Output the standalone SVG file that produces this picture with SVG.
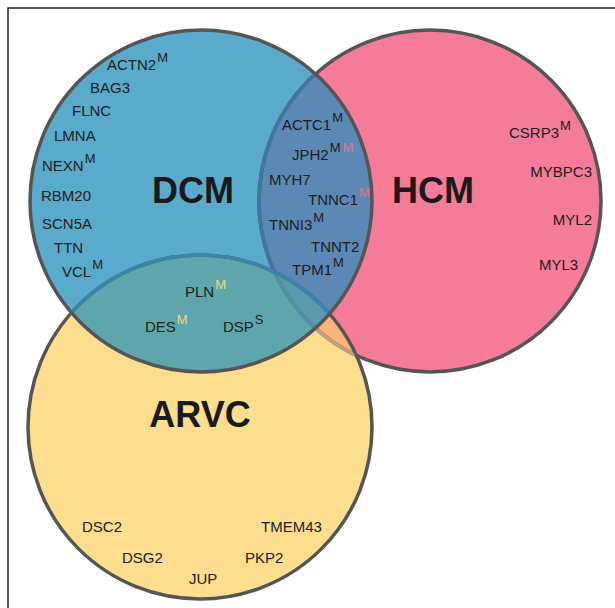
<svg xmlns="http://www.w3.org/2000/svg" width="615" height="608" viewBox="0 0 615 608">
<defs>
<clipPath id="cD"><circle cx="201" cy="201" r="171"/></clipPath>
<clipPath id="cH"><circle cx="430" cy="201" r="171"/></clipPath>
<clipPath id="cA"><circle cx="200" cy="427" r="172"/></clipPath>
<style>
.g{font-family:"Liberation Sans",Arial,Helvetica,sans-serif;font-size:15px;fill:#1c1c1c}
.s{font-size:13px}
.pk{fill:#e8708f}
.yl{fill:#f3d57c}
.big{font-family:"Liberation Sans",Arial,Helvetica,sans-serif;font-size:36px;font-weight:bold;fill:#1a1a1a;text-anchor:middle}
.edge{fill:none;stroke-width:3.5}
</style>
</defs>
<rect width="615" height="608" fill="#ffffff"/>
<path d="M8,620V8H620" fill="none" stroke="#222" stroke-width="1.5"/>

<g id="fills">
<circle cx="430" cy="201" r="171" fill="#f47c99"/>
<circle cx="200" cy="427" r="172" fill="#fddd8e"/>
<circle cx="200" cy="427" r="172" fill="#f9b47a" clip-path="url(#cH)"/>
<circle cx="201" cy="201" r="171" fill="#5aabcb"/>
<circle cx="201" cy="201" r="171" fill="#5b88b4" clip-path="url(#cH)"/>
<circle cx="201" cy="201" r="171" fill="#5ea6ab" clip-path="url(#cA)"/>
<g clip-path="url(#cH)"><circle cx="201" cy="201" r="171" fill="#5b9aac" clip-path="url(#cA)"/></g>
</g>

<g id="edges">
<circle cx="430" cy="201" r="171" class="edge" stroke="#555"/>
<circle cx="430" cy="201" r="171" class="edge" stroke="#c5a07a" clip-path="url(#cA)"/>
<circle cx="430" cy="201" r="171" class="edge" stroke="#3f77a3" clip-path="url(#cD)"/>
<g clip-path="url(#cA)"><circle cx="430" cy="201" r="171" class="edge" stroke="#4f93a2" clip-path="url(#cD)"/></g>
<circle cx="200" cy="427" r="172" class="edge" stroke="#555"/>
<circle cx="200" cy="427" r="172" class="edge" stroke="#3a86ab" clip-path="url(#cD)"/>
<circle cx="201" cy="201" r="171" class="edge" stroke="#555"/>
</g>

<g id="DCM">
<text class="big" x="193" y="203">DCM</text>
<text class="g" x="107" y="70">ACTN2<tspan class="s" dx="1" dy="-8">M</tspan></text>
<text class="g" x="90" y="93">BAG3</text>
<text class="g" x="72" y="116">FLNC</text>
<text class="g" x="54" y="141">LMNA</text>
<text class="g" x="42" y="171">NEXN<tspan class="s" dx="1" dy="-8">M</tspan></text>
<text class="g" x="41" y="201">RBM20</text>
<text class="g" x="42" y="229">SCN5A</text>
<text class="g" x="54" y="253">TTN</text>
<text class="g" x="62" y="277">VCL<tspan class="s" dx="1" dy="-8">M</tspan></text>
</g>

<g id="DCM-HCM">
<text class="g" x="282" y="130">ACTC1<tspan class="s" dx="1" dy="-8">M</tspan></text>
<text class="g" x="292" y="160">JPH2<tspan class="s" dx="1" dy="-8">M</tspan><tspan class="s pk" dx="2">M</tspan></text>
<text class="g" x="269" y="185">MYH7</text>
<text class="g" x="308" y="205">TNNC1<tspan class="s pk" dx="1" dy="-8">M</tspan></text>
<text class="g" x="269" y="230">TNNI3<tspan class="s" dx="1" dy="-8">M</tspan></text>
<text class="g" x="311" y="252">TNNT2</text>
<text class="g" x="292" y="275">TPM1<tspan class="s" dx="1" dy="-8">M</tspan></text>
</g>

<g id="HCM">
<text class="big" x="433" y="203">HCM</text>
<text class="g" x="509" y="138">CSRP3<tspan class="s" dx="1" dy="-8">M</tspan></text>
<text class="g" x="592" y="177" text-anchor="end">MYBPC3</text>
<text class="g" x="592" y="225" text-anchor="end">MYL2</text>
<text class="g" x="539" y="270">MYL3</text>
</g>

<g id="DCM-ARVC">
<text class="g" x="185" y="297">PLN<tspan class="s yl" dx="1" dy="-8">M</tspan></text>
<text class="g" x="145" y="332">DES<tspan class="s yl" dx="1" dy="-8">M</tspan></text>
<text class="g" x="223" y="332">DSP<tspan class="s" dx="1" dy="-8">S</tspan></text>
</g>

<g id="ARVC">
<text class="big" x="200" y="427">ARVC</text>
<text class="g" x="82" y="532">DSC2</text>
<text class="g" x="122" y="563">DSG2</text>
<text class="g" x="189" y="584">JUP</text>
<text class="g" x="261" y="532">TMEM43</text>
<text class="g" x="245" y="563">PKP2</text>
</g>
</svg>
